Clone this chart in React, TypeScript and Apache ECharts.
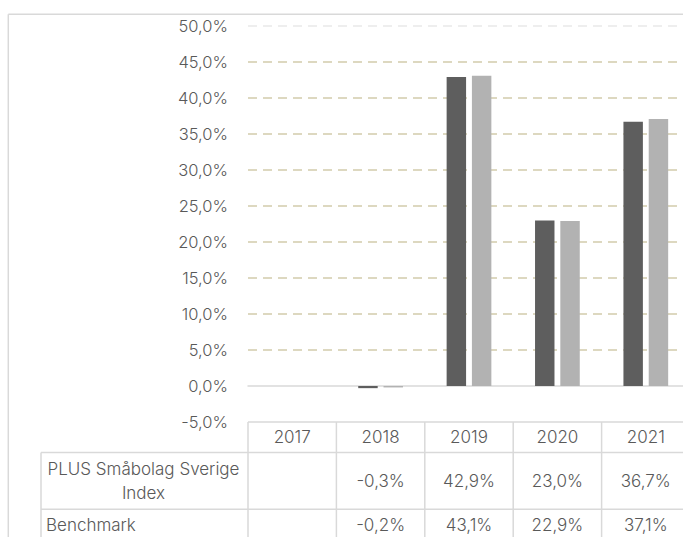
import React, { useEffect, useRef } from "react";
import * as echarts from "echarts";

const years = ["2017", "2018", "2019", "2020", "2021"];
const plusValues: (number | null)[] = [null, -0.3, 42.9, 23.0, 36.7];
const benchValues: (number | null)[] = [null, -0.2, 43.1, 22.9, 37.1];
const seriesNames = ["PLUS Småbolag Sverige Index", "Benchmark"];
const rowLabels = ["PLUS Småbolag Sverige\nIndex", "Benchmark"];
const yMin = -5;
const yMax = 50;
const yStep = 5;

const FONT = "Inter";
const TEXT = "#595959";
const LINE = "#d9d9d9";
const GRID = "#ddd8c0";

const fmt = (v: number) => v.toFixed(1).replace(".", ",") + "%";

export default function App() {
  const ref = useRef<HTMLDivElement>(null);
  useEffect(() => {
    if (!ref.current) return;
    const chart = echarts.init(ref.current, null, { renderer: "svg" });
    const nLines = Math.round((yMax - yMin) / yStep) + 1;
    const gridColors: string[] = [];
    for (let i = 0; i < nLines; i++) {
      if (i === 0 || i === 1) gridColors.push("rgba(0,0,0,0)");
      else if (i === nLines - 1) gridColors.push("#eeeeee");
      else gridColors.push(GRID);
    }
    chart.setOption({
      animation: false,
      grid: { left: 248, top: 26, right: 10, bottom: 115, containLabel: false },
      xAxis: {
        type: "category",
        data: years,
        axisLine: { show: true, onZero: true, lineStyle: { color: LINE, width: 1.5 } },
        axisTick: { show: false },
        axisLabel: { show: false },
        splitLine: { show: false },
      },
      yAxis: {
        type: "value",
        min: yMin,
        max: yMax,
        interval: yStep,
        axisLine: { show: false },
        axisTick: { show: false },
        axisLabel: {
          formatter: (v: number) => fmt(v),
          color: TEXT,
          fontFamily: FONT,
          fontWeight: 300,
          fontSize: 16.5,
          margin: 20,
        },
        splitLine: {
          show: true,
          lineStyle: { color: gridColors, width: 2, type: [9, 6] },
        },
      },
      series: [
        {
          name: seriesNames[0],
          type: "bar",
          data: plusValues,
          barWidth: "22%",
          barGap: "30%",
          itemStyle: { color: "#5e5e5e" },
        },
        {
          name: seriesNames[1],
          type: "bar",
          data: benchValues,
          barWidth: "22%",
          barGap: "30%",
          itemStyle: { color: "#b2b2b2" },
        },
      ],
    });

    const centers = years.map((_, i) => chart.convertToPixel({ xAxisIndex: 0 }, i) as number);
    const band = centers.length > 1 ? centers[1] - centers[0] : 88;
    const left = centers[0] - band / 2;
    const right = centers[centers.length - 1] + band / 2;
    const top = chart.convertToPixel({ yAxisIndex: 0 }, yMin) as number;
    const headerH = 30.6;
    const row1H = 56.7;
    const row2H = 32;
    const yHead = top;
    const yRow1 = top + headerH;
    const yRow2 = yRow1 + row1H;
    const yEnd = yRow2 + row2H;
    const labelLeft = 41;

    const ls = { stroke: LINE, lineWidth: 1.5 };
    const elems: any[] = [];
    elems.push({ type: "line", shape: { x1: 8.3, y1: 14.3, x2: 700, y2: 14.3 }, style: ls, silent: true });
    elems.push({ type: "line", shape: { x1: 8.3, y1: 14.3, x2: 8.3, y2: 540 }, style: ls, silent: true });
    elems.push({ type: "line", shape: { x1: left, y1: yHead, x2: right, y2: yHead }, style: ls, silent: true });
    elems.push({ type: "line", shape: { x1: labelLeft, y1: yRow1, x2: right, y2: yRow1 }, style: ls, silent: true });
    elems.push({ type: "line", shape: { x1: labelLeft, y1: yRow2, x2: right, y2: yRow2 }, style: ls, silent: true });
    elems.push({ type: "line", shape: { x1: labelLeft, y1: yEnd, x2: right, y2: yEnd }, style: ls, silent: true });
    elems.push({ type: "line", shape: { x1: labelLeft, y1: yRow1, x2: labelLeft, y2: yEnd }, style: ls, silent: true });
    for (let i = 0; i <= years.length; i++) {
      const x = left + i * band;
      elems.push({ type: "line", shape: { x1: x, y1: yHead, x2: x, y2: yEnd }, style: ls, silent: true });
    }
    const ts = (extra: any) => ({
      fill: TEXT,
      fontFamily: FONT,
      fontWeight: 300,
      fontSize: 17,
      verticalAlign: "middle",
      ...extra,
    });
    years.forEach((y, i) => {
      elems.push({ type: "text", x: centers[i], y: yHead + headerH / 2, style: ts({ text: y, align: "center" }), silent: true });
      const a = plusValues[i];
      const b = benchValues[i];
      if (a != null)
        elems.push({ type: "text", x: centers[i], y: yRow1 + row1H / 2, style: ts({ text: fmt(a), align: "center" }), silent: true });
      if (b != null)
        elems.push({ type: "text", x: centers[i], y: yRow2 + row2H / 2, style: ts({ text: fmt(b), align: "center" }), silent: true });
    });
    elems.push({
      type: "text",
      x: (labelLeft + left) / 2 - 1,
      y: yRow1 + row1H / 2,
      style: ts({ text: rowLabels[0], align: "center", lineHeight: 24 }),
      silent: true,
    });
    elems.push({
      type: "text",
      x: 46,
      y: yRow2 + row2H / 2,
      style: ts({ text: rowLabels[1], align: "left" }),
      silent: true,
    });
    chart.setOption({ graphic: { elements: elems } });

    return () => chart.dispose();
  }, []);

  return (
    <div style={{ position: "absolute", left: 0, top: 0, width: 683, height: 537, overflow: "hidden", background: "#fff" }}>
      <div ref={ref} style={{ width: 700, height: 537 }} />
    </div>
  );
}
